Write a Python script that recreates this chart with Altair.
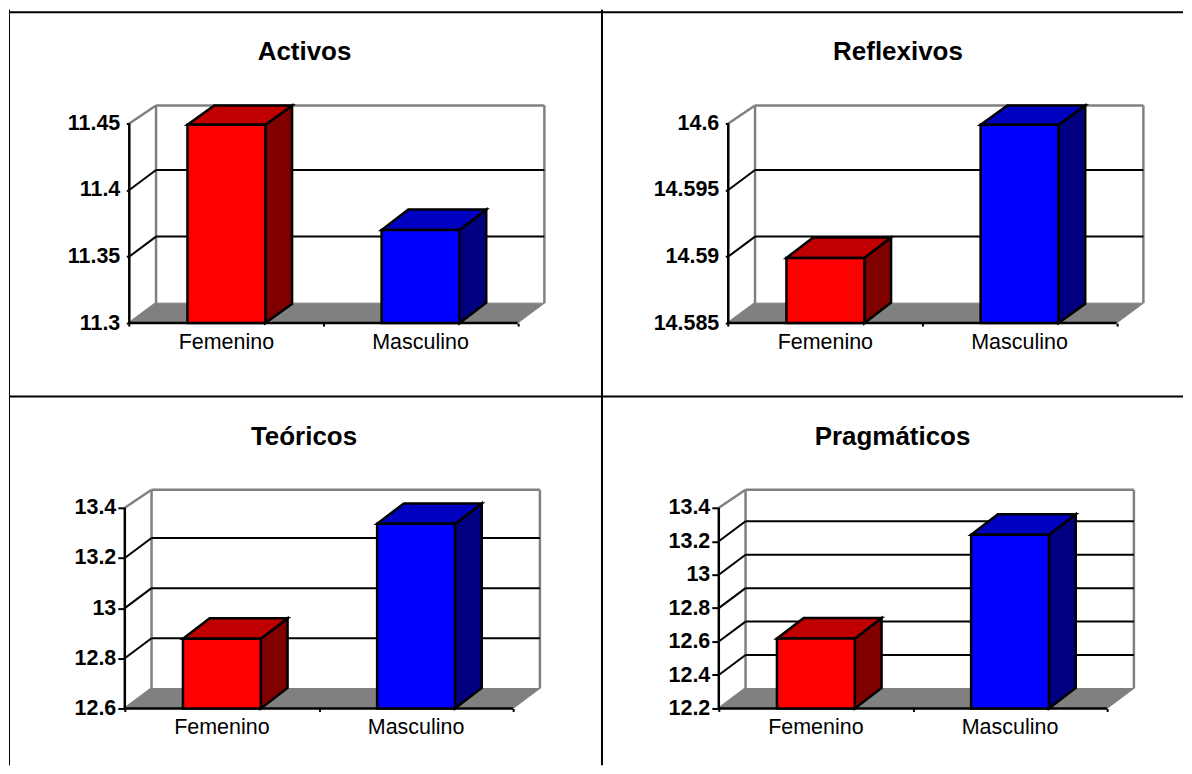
import altair as alt
import pandas as pd

categories = ["Femenino", "Masculino"]
titles = ["Activos", "Reflexivos", "Teóricos", "Pragmáticos"]
values_activos = [11.449, 11.37]
values_reflexivos = [14.5899, 14.5999]
values_teoricos = [12.878, 13.336]
values_pragmaticos = [12.618, 13.239]
ticks_activos = [11.3, 11.35, 11.4, 11.45]
ticks_reflexivos = [14.585, 14.59, 14.595, 14.6]
ticks_teoricos = [12.6, 12.8, 13.0, 13.2, 13.4]
ticks_pragmaticos = [12.2, 12.4, 12.6, 12.8, 13.0, 13.2, 13.4]

FONT = "Liberation Sans"
UNIT = 194.5      # px per category on the floor
BAR_W = 78 / UNIT
DX = 26.8
DY = 20.0
DY_BAR = 20.5
DY_TOP = 18.0
FACES = {0: ("#FF0000", "#C00000", "#800000"), 1: ("#0000FF", "#0000C0", "#000080")}


def panel(title, values, ticks, w, h, axis_x, base_y, top_y, title_x, title_y, label_y,
          tick_size, label_pad, top_border=None, left_border=False, right_border=False):
    per_px = (ticks[-1] - ticks[0]) / (base_y - top_y)
    ymin = ticks[0] - (h - base_y) * per_px
    ymax = ticks[0] + base_y * per_px
    xmin = -axis_x / UNIT
    xmax = (w - axis_x) / UNIT
    dx = DX / UNIT
    sx = alt.Scale(domain=[xmin, xmax], nice=False, zero=False)
    sy = alt.Scale(domain=[ymin, ymax], nice=False, zero=False)
    ax = alt.Axis(values=[0, 1, 2], labels=False, domain=False, grid=False, tickSize=3,
                  tickWidth=2, tickColor="black", orient="bottom", offset=-(h - base_y), title=None)
    ay = alt.Axis(values=ticks, domain=False, grid=False, tickSize=tick_size, tickWidth=2,
                  tickColor="black", orient="left", offset=-axis_x, title=None,
                  labelExpr="'' + datum.value",
                  labelFont=FONT, labelFontSize=21.5, labelFontWeight="bold", labelColor="black",
                  labelPadding=label_pad, labelOverlap=False, labelFlush=False)
    X = alt.X("x:Q", scale=sx, axis=ax)
    Y = alt.Y("y:Q", scale=sy, axis=ay)
    dv, dvb, dvt = DY * per_px, DY_BAR * per_px, DY_TOP * per_px
    lo, hi = ticks[0], ticks[-1]
    wall_top = hi + dvt

    layers = []
    # floor
    floor = pd.DataFrame({"y": [lo, lo + dv], "x": [0.0, dx], "x2": [2.0, 2 + dx]})
    layers.append(
        alt.Chart(floor).mark_area(orient="horizontal", color="#808080", stroke="#808080", strokeWidth=1)
        .encode(x=X, x2="x2:Q", y=Y)
    )
    # gray walls
    walls = pd.DataFrame({
        "x": [dx, 2 + dx, dx, 0.0, 0.0],
        "x2": [dx, 2 + dx, 2 + dx, dx, dx],
        "y": [lo + dv, lo + dv, wall_top, hi, lo],
        "y2": [wall_top, wall_top, wall_top, wall_top, lo + dv],
    })
    layers.append(
        alt.Chart(walls).mark_rule(color="#808080", strokeWidth=2.5)
        .encode(x=X, x2="x2:Q", y=Y, y2="y2:Q")
    )
    # grid on the back wall and on the left wall
    inner = ticks[1:-1]
    grid = pd.DataFrame({"x": [dx] * len(inner), "x2": [2 + dx] * len(inner),
                         "y": [t + dv for t in inner], "y2": [t + dv for t in inner]})
    diag = pd.DataFrame({"x": [0.0] * len(inner), "x2": [dx] * len(inner),
                         "y": inner, "y2": [t + dv for t in inner]})
    layers.append(
        alt.Chart(pd.concat([grid, diag])).mark_rule(color="black", strokeWidth=2)
        .encode(x=X, x2="x2:Q", y=Y, y2="y2:Q")
    )
    # front axis lines
    front = pd.DataFrame({"x": [0.0, 0.0], "x2": [0.0, 2.0], "y": [lo, lo], "y2": [hi, lo]})
    layers.append(
        alt.Chart(front).mark_rule(color="black", strokeWidth=2.5)
        .encode(x=X, x2="x2:Q", y=Y, y2="y2:Q")
    )
    # bars
    for i, v in enumerate(values):
        x0 = i + 0.5 - BAR_W / 2
        x1 = i + 0.5 + BAR_W / 2
        c_front, c_top, c_side = FACES[i]
        back = min(v + dvb, wall_top)
        shift = back - v
        side = pd.DataFrame({"x": [x1, x1 + dx], "y": [v, back], "y2": [lo, lo + shift]})
        top = pd.DataFrame({"y": [v, back], "x": [x0, x0 + dx], "x2": [x1, x1 + dx]})
        fr = pd.DataFrame({"x": [x0], "x2": [x1], "y": [v], "y2": [lo]})
        layers.append(alt.Chart(side).mark_area(orient="vertical", color=c_side, stroke="black", strokeWidth=2.5)
                      .encode(x=X, y=Y, y2="y2:Q"))
        layers.append(alt.Chart(top).mark_area(orient="horizontal", color=c_top, stroke="black", strokeWidth=2.5)
                      .encode(x=X, x2="x2:Q", y=Y))
        layers.append(alt.Chart(fr).mark_rect(color=c_front, stroke="black", strokeWidth=2.5)
                      .encode(x=X, x2="x2:Q", y=Y, y2="y2:Q"))
    # category labels
    lab = pd.DataFrame({"x": [0.5, 1.5], "t": categories})
    layers.append(
        alt.Chart(lab).mark_text(font=FONT, fontSize=21.5, color="black", baseline="middle", align="center")
        .encode(x=X, y=alt.value(label_y), text="t:N")
    )
    # title
    layers.append(
        alt.Chart(pd.DataFrame({"t": [title]})).mark_text(
            font=FONT, fontSize=26, fontWeight="bold", color="black", baseline="alphabetic", align="center")
        .encode(x=alt.value(title_x), y=alt.value(title_y), text="t:N")
    )
    # table borders
    def border(width=2, **enc):
        return alt.Chart(pd.DataFrame({"a": [0]})).mark_rule(color="black", strokeWidth=width).encode(**enc)
    if top_border is not None:
        layers.append(border(x=alt.value(0), x2=alt.value(w), y=alt.value(top_border)))
    if left_border:
        layers.append(border(width=1, x=alt.value(0.5), y=alt.value(0), y2=alt.value(h)))
    if right_border:
        layers.append(border(x=alt.value(w), y=alt.value(0), y2=alt.value(h)))
    return alt.layer(*layers).properties(width=w, height=h)


OX, OY = 8, 8
W1, W2 = 594, 582
H1, H2 = 387, 370

a = panel(titles[0], values_activos, ticks_activos, W1, H1, 128.5 - OX, 322 - OY, 122 - OY,
          304 - OX, 58.5 - OY, 342 - OY, 3, 6.5, top_border=10.5 - OY, left_border=True, right_border=True)
b = panel(titles[1], values_reflexivos, ticks_reflexivos, W2, H1, 728.5 - 602, 322 - OY, 122 - OY,
          898.5 - 602, 58.5 - OY, 342 - OY, 3, 6.5, top_border=10.5 - OY)
c = panel(titles[2], values_teoricos, ticks_teoricos, W1, H2, 124 - OX, 708 - 395, 507 - 395,
          303.5 - OX, 444 - 395, 728 - 395, 7, 2, top_border=0.5, left_border=True, right_border=True)
d = panel(titles[3], values_pragmaticos, ticks_pragmaticos, W2, H2, 719 - 602, 708 - 395, 507 - 395,
          893 - 602, 444 - 395, 728 - 395, 7, 2, top_border=0.5)

chart = (
    alt.concat(a, b, c, d, columns=2, spacing=0, bounds="flush")
    .properties(padding=0, background="white")
    .configure_view(stroke=None)
)
chart.save("out.html", embed_options={"renderer": "svg", "actions": False})
